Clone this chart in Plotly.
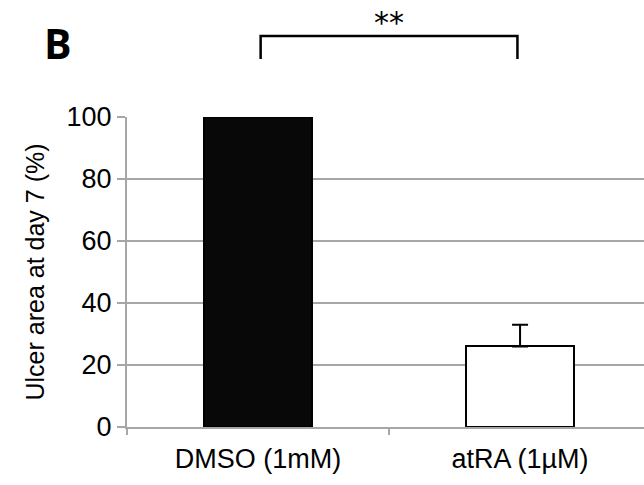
import plotly.graph_objects as go

categories = ["DMSO (1mM)", "atRA (1µM)"]
values = [100, 26]
errors_up = [0, 7]
errors_down = [0, 0]
fill_colors = ["#080808", "#ffffff"]
y_ticks = [0, 20, 40, 60, 80, 100]
y_title = "Ulcer area at day 7 (%)"
panel_label = "B"
sig_label = "**"

GRID = "#a6a6a6"
FONT = "Liberation Sans, Arial, sans-serif"

fig = go.Figure()
fig.add_trace(go.Bar(
    x=categories, y=values,
    width=0.41,
    marker=dict(color=fill_colors, line=dict(color="#000000", width=2)),
    error_y=dict(type="data", symmetric=False, array=errors_up, arrayminus=errors_down,
                 visible=True, color="#000000", thickness=2, width=8),
    showlegend=False,
))

fig.update_layout(
    width=644, height=485,
    margin=dict(l=127, r=0, t=117, b=58),
    plot_bgcolor="#ffffff", paper_bgcolor="#ffffff",
    font=dict(family=FONT, size=26, color="#000000"),
    bargap=0,
    xaxis=dict(
        type="category", range=[-0.5, 1.473],
        tickson="boundaries", ticks="outside", ticklen=6, tickcolor=GRID, tickwidth=2,
        showline=True, linecolor=GRID, linewidth=2,
        showgrid=False, tickfont=dict(size=27), ticklabelstandoff=7,
    ),
    yaxis=dict(
        range=[0, 100], tickvals=y_ticks,
        ticks="outside", ticklen=8, tickcolor=GRID, tickwidth=2,
        showline=True, linecolor=GRID, linewidth=2,
        showgrid=True, gridcolor=GRID, gridwidth=2,
        zeroline=False,
        title=dict(text=y_title, font=dict(size=25), standoff=15),
        tickfont=dict(size=27),
    ),
)

# significance bracket
fig.add_shape(type="path", xref="x", yref="paper",
              path="M 0.01,1.187 L 0.01,1.2613 L 0.99,1.2613 L 0.99,1.187",
              line=dict(color="#000000", width=2.5))
fig.add_annotation(x=0.5, y=1.305, xref="x", yref="paper", xanchor="center", yanchor="middle",
                   text=sig_label, showarrow=False,
                   font=dict(size=30, family="DejaVu Sans, sans-serif", color="#000000"))
fig.add_annotation(x=-0.134, y=1.240, xref="paper", yref="paper", xanchor="center", yanchor="middle",
                   text="<b>%s</b>" % panel_label, showarrow=False,
                   font=dict(size=41, family="Open Sans, sans-serif", color="#000000"))

fig.write_html("out.html", config={"displayModeBar": False},
               post_script="document.body.style.margin='0px';")
